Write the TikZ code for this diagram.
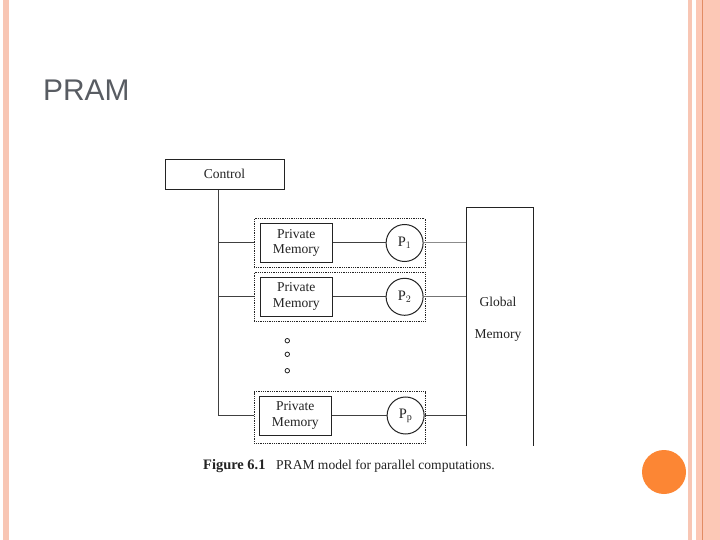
\documentclass[tikz,border=0pt]{standalone}
\usepackage{fontspec}
\setmainfont{Liberation Serif}
\newfontfamily\titlefont{Liberation Sans}
\usepackage{tikz}
\usetikzlibrary{positioning,shapes}
\usepackage{xcolor}
\definecolor{FrameSalmon}{RGB}{248,198,180}
\definecolor{FramePeach}{RGB}{252,200,182}
\definecolor{FrameLine}{RGB}{226,140,100}
\definecolor{DotOrange}{RGB}{252,134,52}
\definecolor{TitleGray}{RGB}{88,92,98}
\definecolor{InkGray}{RGB}{35,35,35}

\begin{document}
\begin{tikzpicture}[x=1bp, y=-1bp,
    figfont/.style={font=\fontsize{13.6}{16}\selectfont, text=InkGray},
    box/.style={rectangle, draw=InkGray, line width=1bp, figfont, align=center, inner sep=0pt},
    memory/.style={box, minimum width=72bp, minimum height=39bp},
    proc/.style={circle, draw=InkGray, line width=1bp, minimum size=37bp,
                 inner sep=0pt, figfont, font=\fontsize{14.5}{16}\selectfont},
    group/.style={rectangle, draw=InkGray, densely dotted, line width=0.8bp,
                  minimum width=171bp, minimum height=49bp, inner sep=0pt},
    wire/.style={draw=black!75, line width=1bp},
    dotmark/.style={circle, draw=InkGray, line width=0.8bp, minimum size=4.5bp, inner sep=0pt},
]
    % slide frame
    \fill[white] (0,0) rectangle (720,540);
    \useasboundingbox (0,0) rectangle (720,540);
    \fill[FrameSalmon] (3,0) rectangle (9,540);
    \fill[FrameSalmon] (688,0) rectangle (692,540);
    \fill[FramePeach] (696,0) rectangle (720,540);
    \fill[FrameLine] (702,0) rectangle (703.3,540);
    \fill[DotOrange] (664,472) circle (22);

    \node[anchor=base west, inner sep=0pt, text=TitleGray,
          font=\titlefont\fontsize{30}{34}\selectfont] (title) at (43,101) {PRAM};

    % figure
    \node[box, minimum width=119bp, minimum height=30bp] (ctrl) at (224.5,174.3) {Control};

    \node[group] (g1) at (339.7,243) {};
    \node[group, below=4bp of g1] (g2) {};
    \node[group, minimum height=52bp] (gp) at (339.7,417.5) {};

    \node[memory, right=6bp of g1.west] (m1) {Private\\Memory};
    \node[memory, right=6bp of g2.west] (m2) {Private\\Memory};
    \node[memory, right=5bp of gp.west, yshift=2bp] (mp) {Private\\Memory};

    \node[proc, left=2bp of g1.east] (p1) {P$_1$};
    \node[proc, left=2bp of g2.east] (p2) {P$_2$};
    \node[proc, left=1bp of gp.east, yshift=2bp] (pp) {P$_{\mathrm{p}}$};

    \node[rectangle, minimum width=67bp, minimum height=238bp, inner sep=0pt] (gm) at (500,327) {};
    \draw[InkGray, line width=1bp] (gm.south west) -- (gm.north west) -- (gm.north east) -- (gm.south east);
    \node[figfont, align=center, font=\fontsize{13.6}{32}\selectfont] (gmlabel) at (498,319) {Global\\Memory};

    \foreach \y [count=\i] in {340.7,354.3,370.7}
        \node[dotmark] (dot\i) at (287.3,\y) {};

    % wires
    \coordinate (trunk) at ([xshift=-6bp]ctrl.south);
    \draw[wire] (trunk) -- (trunk |- mp.west) -- (mp.west -| gp.west);
    \draw[wire] (trunk |- g1.west) -- (g1.west);
    \draw[wire] (trunk |- g2.west) -- (g2.west);
    \draw[wire] (m1) -- (p1);
    \draw[wire] (m2) -- (p2);
    \draw[wire] (mp) -- (pp);
    \draw[wire, draw=black!45] (p1) -- (p1 -| gm.west);
    \draw[wire, draw=black!55] (p2) -- (p2 -| gm.west);
    \draw[wire] (pp) -- (pp -| gm.west);

    % caption
    \node[anchor=base west, inner sep=0pt, figfont, font=\fontsize{14.5}{16}\selectfont\bfseries] (figno) at (203,469) {Figure 6.1};
    \node[anchor=base west, inner sep=0pt, figfont] (caption) at (276,469) {PRAM model for parallel computations.};
\end{tikzpicture}
\end{document}
